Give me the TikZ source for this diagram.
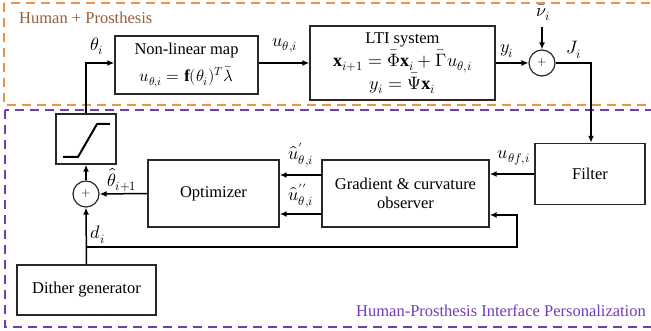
\documentclass[tikz,border=0pt]{standalone}
\usepackage{fontspec}
\usepackage{amsmath}
\usepackage{unicode-math}
\setmainfont{Liberation Serif}
\setmathfont{Latin Modern Math}
\usetikzlibrary{arrows.meta,calc}
\definecolor{hpOrange}{RGB}{240,145,70}
\definecolor{hpPurple}{RGB}{115,60,180}
\definecolor{hpBrown}{RGB}{150,95,60}
\definecolor{hpLine}{RGB}{40,40,40}
\begin{document}
\begin{tikzpicture}[x=1pt,y=-1pt,
  font=\fontsize{16.5}{19}\selectfont,
  block/.style={draw=hpLine,line width=1.4pt,rectangle,inner sep=0pt,align=center},
  sumnode/.style={draw=hpLine,line width=1.2pt,circle,minimum size=26pt,inner sep=0pt,font=\fontsize{12}{12}\selectfont},
  conn/.style={line width=1.5pt,draw=black,-{Latex[length=7pt,width=6pt]}},
  region/.style={line width=2pt,dash pattern=on 9pt off 6pt},
  lbl/.style={inner sep=0pt,font=\fontsize{18}{20}\selectfont}]
\useasboundingbox (0,0) rectangle (651,331);
\clip (0,0) rectangle (651,331);

% dashed regions
\draw[region,draw=hpOrange] (4,3) rectangle (720,105);
\draw[region,draw=hpPurple] (5,110) rectangle (720,327);
\node[inner sep=0pt,anchor=west,text=hpBrown] (t1) at (19,18) {Human + Prosthesis};
\node[inner sep=0pt,anchor=east,text=hpPurple] (t2) at (646,311) {Human-Prosthesis Interface Personalization};

% blocks
\node[block,minimum width=143pt,minimum height=58pt,font=\fontsize{16.5}{27}\selectfont] (nlm) at (186.5,65)
  {Non-linear map\\ $u_{\theta,i}=\mathbf{f}(\theta_i)^T\bar{\lambda}$};
\node[block,minimum width=185pt,minimum height=74pt,font=\fontsize{16.5}{23}\selectfont] (lti) at (402.5,63)
  {LTI system\\ {\fontsize{18}{23}\selectfont$\mathbf{x}_{i+1}=\bar{\Phi}\mathbf{x}_i+\bar{\Gamma}u_{\theta,i}$}\\ {\fontsize{18}{23}\selectfont$y_i=\bar{\Psi}\mathbf{x}_i$}};
\node[sumnode] (s1) at (542,63) {$+$};
\node[block,minimum width=110pt,minimum height=61pt] (filt) at (590,174) {Filter};
\node[block,minimum width=167pt,minimum height=67pt] (grad) at (405.5,193.5)
  {Gradient \& curvature\\ observer};
\node[block,minimum width=131pt,minimum height=67pt] (opt) at (213.5,193.5) {Optimizer};
\node[sumnode] (s2) at (86,194) {$+$};
\node[block,minimum width=60pt,minimum height=50pt] (sat) at (86,139) {};
\node[block,minimum width=139pt,minimum height=50pt] (dith) at (86.5,290) {Dither generator};

% saturation curve
\draw[line width=2pt,line join=round] (63,157) -- (78,157) -- (97,124) -- (110,124);

% helper points
\coordinate (nu) at (542,27);
\coordinate (corner1) at (591,63);
\coordinate (corner2) at (86,63);
\coordinate (g1) at (322,175);
\coordinate (g2) at (322,214);
\coordinate (dj) at (86,247);
\coordinate (fb1) at (517,247);
\coordinate (fb2) at (517,215);

% signal flow
\draw[conn] (sat.north) -- (corner2) -- (nlm.west |- corner2);
\draw[conn] (nlm.east |- corner2) -- (lti.west |- corner2);
\draw[conn] (lti.east) -- (s1.west);
\draw[conn] (nu) -- (s1.north);
\draw[conn] (s1.east) -- (corner1) -- (corner1 |- filt.north);
\draw[conn] (filt.west) -- (filt.west -| grad.east);
\draw[conn] (g1) -- (g1 -| opt.east);
\draw[conn] (g2) -- (g2 -| opt.east);
\draw[conn] (opt.west) -- (s2.east);
\draw[conn] (s2.north) -- (sat.south);
\draw[conn] (dith.north) -- (s2.south);
\draw[conn] (dj) -- (fb1) -- (fb2) -- (fb2 -| grad.east);

% signal labels
\node[lbl] (lth) at (97,46) {$\theta_i$};
\node[lbl] (lu) at (285,46) {$u_{\theta,i}$};
\node[lbl] (ly) at (507,51) {$y_i$};
\node[lbl] (lJ) at (574,50) {$J_i$};
\node[lbl] (lnu) at (543,13) {$\bar{\nu}_i$};
\node[lbl] (luf) at (514,158) {$u_{\theta f,i}$};
\node[lbl] (lu1) at (301,155) {$\hat{u}^{\prime}_{\theta,i}$};
\node[lbl] (lu2) at (301,196) {$\hat{u}^{\prime\prime}_{\theta,i}$};
\node[lbl] (lthh) at (122,180) {$\hat{\theta}_{i+1}$};
\node[lbl] (ld) at (98,235) {$d_i$};
\end{tikzpicture}
\end{document}
